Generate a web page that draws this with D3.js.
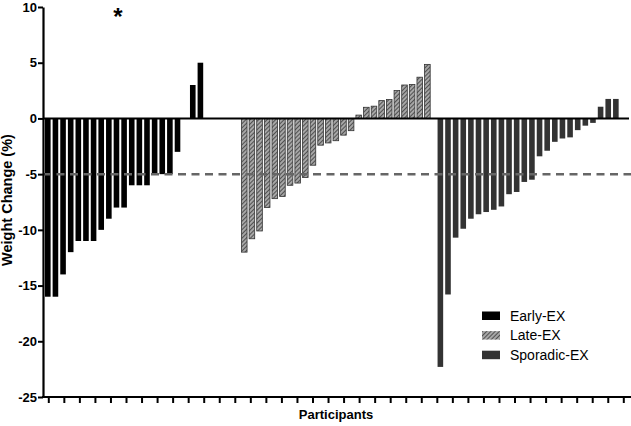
<!DOCTYPE html>
<html>
<head>
<meta charset="utf-8">
<script src="https://cdn.jsdelivr.net/npm/d3@7"></script>
<style>
  body { margin: 0; background: #fff; }
  text { font-family: Arial, "Liberation Sans", sans-serif; }
</style>
</head>
<body>
<div id="chart"></div>
<script>
// data (weight change %, sorted within each group)
var earlyEx = [-16, -16, -14, -12, -11, -11, -11, -10, -9, -8, -8, -6, -6, -6, -5, -5, -5, -3, 0, 3, 5];
var lateEx = [-12, -10.8, -10.1, -8, -7.2, -7, -6, -5.8, -5.3, -4.2, -2.4, -2.2, -2, -1.5, -1.1,
              0.3, 1, 1.1, 1.6, 1.7, 2.5, 3, 3.05, 3.7, 4.85];
var sporadicEx = [-22.3, -15.8, -10.7, -9.9, -9, -8.6, -8.4, -8.2, -7.9, -6.8, -6.6, -5.7, -5.5,
                  -3.4, -2.9, -2.1, -1.8, -1.7, -1.05, -0.65, -0.4, 1.05, 1.75, 1.75];
var groupNames = ["Early-EX", "Late-EX", "Sporadic-EX"];
var yTicks = [10, 5, 0, -5, -10, -15, -20, -25];
var threshold = -5;
var nXTicks = 38;

// layout
var W = 631, H = 426;
var m = {top: 7, right: 0, bottom: 29, left: 43};
var groupStart = [0, 25.75, 51.45]; // in slot units

var svg = d3.select("#chart").append("svg")
    .attr("width", W)
    .attr("height", H);

var defs = svg.append("defs");
var pat = defs.append("pattern")
    .attr("id", "hatch")
    .attr("patternUnits", "userSpaceOnUse")
    .attr("width", 3)
    .attr("height", 3)
    .attr("patternTransform", "rotate(45)");
pat.append("rect").attr("width", 3).attr("height", 3).attr("fill", "#a6a6a6");
pat.append("line").attr("x1", 0).attr("y1", 0).attr("x2", 0).attr("y2", 3)
    .attr("stroke", "#3a3a3a").attr("stroke-width", 1.6);

var y = d3.scaleLinear().domain([-25, 10]).range([H - m.bottom, m.top]);
var x = d3.scaleLinear().domain([0, 75.4]).range([47.8, 623.1]);
var xt = d3.scaleLinear().domain([0, nXTicks - 1]).range([48.3, 623.3]);
var barW = 5.6;

var fills = ["#000", "url(#hatch)", "#333"];
var strokes = ["none", "#333", "none"];

var groups = [earlyEx, lateEx, sporadicEx];
groups.forEach(function(vals, g) {
  svg.append("g").selectAll("rect")
    .data(vals)
    .enter().append("rect")
      .attr("x", function(d, i) { return x(groupStart[g] + i) - barW / 2; })
      .attr("y", function(d) { return y(Math.max(0, d)); })
      .attr("width", barW)
      .attr("height", function(d) { return Math.abs(y(d) - y(0)); })
      .attr("fill", fills[g])
      .attr("stroke", strokes[g])
      .attr("stroke-width", 0.8);
});

// zero line
svg.append("line")
    .attr("x1", m.left).attr("x2", W - 2)
    .attr("y1", y(0)).attr("y2", y(0))
    .attr("stroke", "#000").attr("stroke-width", 2);

// -5 % threshold
svg.append("line")
    .attr("x1", m.left).attr("x2", W)
    .attr("y1", y(threshold)).attr("y2", y(threshold))
    .attr("stroke", "#666").attr("stroke-width", 2.5)
    .attr("stroke-dasharray", "8,5.5");

// y axis
var yAxis = svg.append("g")
    .attr("transform", "translate(" + m.left + ",0)")
    .call(d3.axisLeft(y).tickValues(yTicks).tickSize(5).tickPadding(1).tickSizeOuter(0)
      .tickFormat(function(d) { return String(d); }));
yAxis.select(".domain").attr("stroke-width", 2.2);
yAxis.selectAll(".tick line").attr("stroke-width", 2);
yAxis.selectAll("text")
    .attr("font-size", 13)
    .attr("font-weight", "bold")
    .attr("font-family", "Arial, 'Liberation Sans', sans-serif")
    .attr("fill", "#000");

// x axis: tick marks only
var xAxis = svg.append("g")
    .attr("transform", "translate(0," + y(-25) + ")")
    .call(d3.axisBottom(xt).tickValues(d3.range(nXTicks)).tickSize(6).tickFormat(""));
xAxis.select(".domain").remove();
xAxis.selectAll(".tick line").attr("stroke-width", 2);
svg.append("line")
    .attr("x1", m.left - 1).attr("x2", W)
    .attr("y1", y(-25)).attr("y2", y(-25))
    .attr("stroke", "#000").attr("stroke-width", 2.2);

// labels
svg.append("text")
    .attr("transform", "translate(12,200) rotate(-90)")
    .attr("text-anchor", "middle")
    .attr("font-size", 14.5)
    .attr("font-weight", "bold")
    .text("Weight Change (%)");

svg.append("text")
    .attr("x", 336)
    .attr("y", 419)
    .attr("text-anchor", "middle")
    .attr("font-size", 13)
    .attr("font-weight", "bold")
    .text("Participants");

svg.append("text")
    .attr("x", 118)
    .attr("y", 25)
    .attr("text-anchor", "middle")
    .attr("font-size", 24)
    .attr("font-weight", "bold")
    .text("*");

// legend
var legend = svg.append("g").attr("transform", "translate(482,311.5)");
var li = legend.selectAll("g")
    .data(groupNames)
    .enter().append("g")
      .attr("transform", function(d, i) { return "translate(0," + (i * 19.6) + ")"; });
li.append("rect")
    .attr("width", 18)
    .attr("height", 8.5)
    .attr("fill", function(d, i) { return fills[i]; });
li.append("text")
    .attr("x", 28)
    .attr("y", 9)
    .attr("font-size", 14)
    .text(function(d) { return d; });
</script>
</body>
</html>
